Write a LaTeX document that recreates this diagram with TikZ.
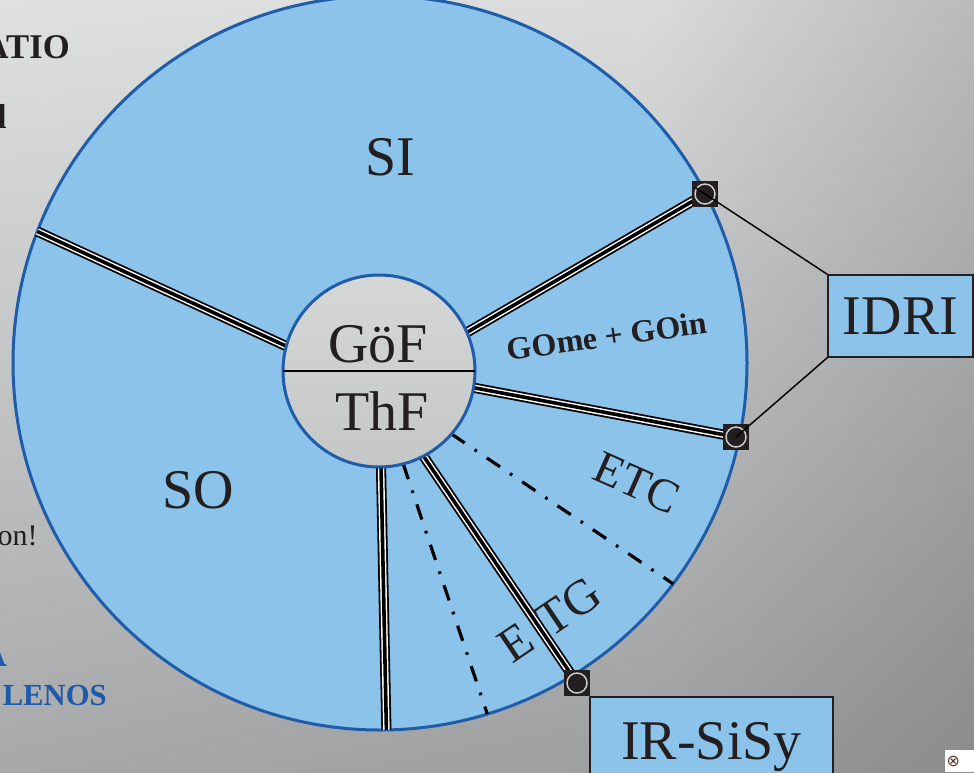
\documentclass[tikz,border=0pt]{standalone}
\usepackage{fontspec}
\setmainfont{Liberation Serif}
\newfontfamily\symfont{DejaVu Sans}
\usetikzlibrary{positioning, shadings}
\definecolor{diskblue}{RGB}{139,195,234}
\definecolor{rimblue}{RGB}{31,92,170}
\definecolor{hubtop}{RGB}{214,215,215}
\definecolor{hubbottom}{RGB}{197,198,198}
\definecolor{inkblack}{RGB}{35,31,32}
\definecolor{ringgray}{RGB}{205,205,205}
\definecolor{titleblue}{RGB}{30,90,170}
\definecolor{iconbrown}{RGB}{90,55,40}
\definecolor{bgTL}{RGB}{223,224,224}
\definecolor{bgTM}{RGB}{218,219,219}
\definecolor{bgTR}{RGB}{184,186,187}
\definecolor{bgBL}{RGB}{166,168,169}
\definecolor{bgBM}{RGB}{156,158,160}
\definecolor{bgBR}{RGB}{137,139,141}
\tikzset{
  disk/.style={
    circle,
    draw=rimblue,
    line width=2.25pt,
    fill=diskblue,
    inner sep=0pt,
    outer sep=0pt,
    minimum size=550.5pt
  },
  hub/.style={
    circle,
    draw=rimblue,
    line width=2.25pt,
    top color=hubtop,
    bottom color=hubbottom,
    inner sep=0pt,
    outer sep=0pt,
    minimum size=144pt
  },
  spoke/.style={
    draw=black,
    line width=2.7pt,
    preaction={
      draw=white,
      line width=4.9pt,
      preaction={draw=black, line width=7.6pt}
    }
  },
  sector/.style={
    draw=black,
    line width=2.4pt,
    dash pattern=on 12pt off 9pt on 2pt off 9pt
  },
  port/.style={
    rectangle,
    fill=inkblack,
    minimum size=19.5pt,
    inner sep=0pt
  },
  portring/.style={
    circle,
    draw=ringgray,
    line width=1.1pt,
    minimum size=15pt,
    inner sep=0pt
  },
  link/.style={
    draw=black,
    line width=1.1pt
  },
  unit/.style={
    rectangle,
    draw=inkblack,
    line width=1.1pt,
    fill=diskblue,
    inner sep=0pt,
    text=inkblack,
    font=\fontsize{42}{48}\selectfont
  },
  biglabel/.style={
    inner sep=0pt,
    text=inkblack,
    font=\fontsize{42}{48}\selectfont
  },
  arclabel/.style={
    inner sep=0pt,
    text=inkblack,
    font=\fontsize{#1}{#1}\selectfont
  },
  arcbold/.style={
    inner sep=0pt,
    text=inkblack,
    font=\fontsize{#1}{#1}\selectfont\bfseries
  },
  sidetext/.style={
    anchor=base east,
    inner sep=0pt,
    text=inkblack,
    font=\fontsize{#1}{#1}\selectfont
  },
  sidebold/.style={
    anchor=base east,
    inner sep=0pt,
    text=inkblack,
    font=\fontsize{#1}{#1}\selectfont\bfseries
  }
}

\begin{document}
\begin{tikzpicture}[x=0.75pt, y=-0.75pt]
  \useasboundingbox (0,0) rectangle (974,772);
  \clip (0,0) rectangle (974,772);
  % background
  \shade[upper left=bgTL, upper right=bgTM, lower left=bgBL, lower right=bgBM] (0,0) rectangle (650,772);
  \shade[upper left=bgTM, upper right=bgTR, lower left=bgBM, lower right=bgBR] (650,0) rectangle (974,772);

  % cut-off slide text on the left
  \node[sidebold=26] (atio) at (70,58) {ATIO};
  \node[sidebold=26] (ltr) at (7,128) {l};
  \node[sidetext=22.5] (onx) at (38,545) {on!};
  \node[sidebold=32, text=titleblue] (ablue) at (8,666) {A};
  \node[sidebold=23, text=titleblue] (lenos) at (107,705) {LENOS};

  \node[disk] (disk) at (380,363) {};

  \node[port] (pA) at (705,194) {};
  \node[port] (pB) at (736,437) {};
  \node[port] (pC) at (577,683) {};

  % y runs downwards, so polar angles are mirrored
  \draw[sector] (379,371) ++(75.4:96) -- (disk.-73.8);
  \draw[sector] (379,371) ++(41:96) -- (disk.-37.4);

  \draw[spoke] (379,371) ++(-165:96) -- (disk.159.4);
  \draw[spoke] (379,371) ++(-23.7:96) -- (pA.center);
  \draw[spoke] (379,371) ++(10:96) -- (pB.center);
  \draw[spoke] (379,371) ++(88.8:96) -- (disk.-89.1);
  \draw[spoke] (379,371) ++(62.4:96) -- (pC.center);

  \node[hub] (hub) at (379,371) {};
  \draw[line width=1.1pt] (hub.west) -- (hub.east);

  \foreach \p in {pA, pB, pC} {
    \node[port] at (\p) {};
    \node[portring] at (\p) {};
  }

  \node[unit, minimum width=108.75pt, minimum height=61.5pt] (idri) at (900.5,316) {IDRI};
  \node[unit, minimum width=182.25pt, minimum height=75pt] (irsisy) at (711.5,747) {IR-SiSy};

  \draw[link, shorten <=-9pt] (pA.center) -- (idri.north west);
  \draw[link] (pB.center) -- (idri.south west);

  \node[biglabel, anchor=base] (si) at (390,175) {SI};
  \node[biglabel, anchor=base] (so) at (198,508) {SO};
  \node[biglabel, anchor=base] (goef) at (378,362) {GöF};
  \node[biglabel, anchor=base] (thf) at (382,430) {ThF};
  \node[arcbold=24, rotate=8] (gome) at (607,336) {GOme + GOin};
  \node[arclabel=35, rotate=-24] (etc) at (637,483) {ETC};
  \node[arclabel=37, rotate=34] (etge) at (516,643) {E};
  \node[arclabel=37, rotate=34] (etgtg) at (569,607) {TG};

  \node[fill=white, inner sep=1pt, anchor=north west, minimum height=16.5pt, text width=24pt] (icon) at (945,750) {\symfont\fontsize{12}{12}\selectfont\textcolor{iconbrown}{⊗}};
\end{tikzpicture}
\end{document}
